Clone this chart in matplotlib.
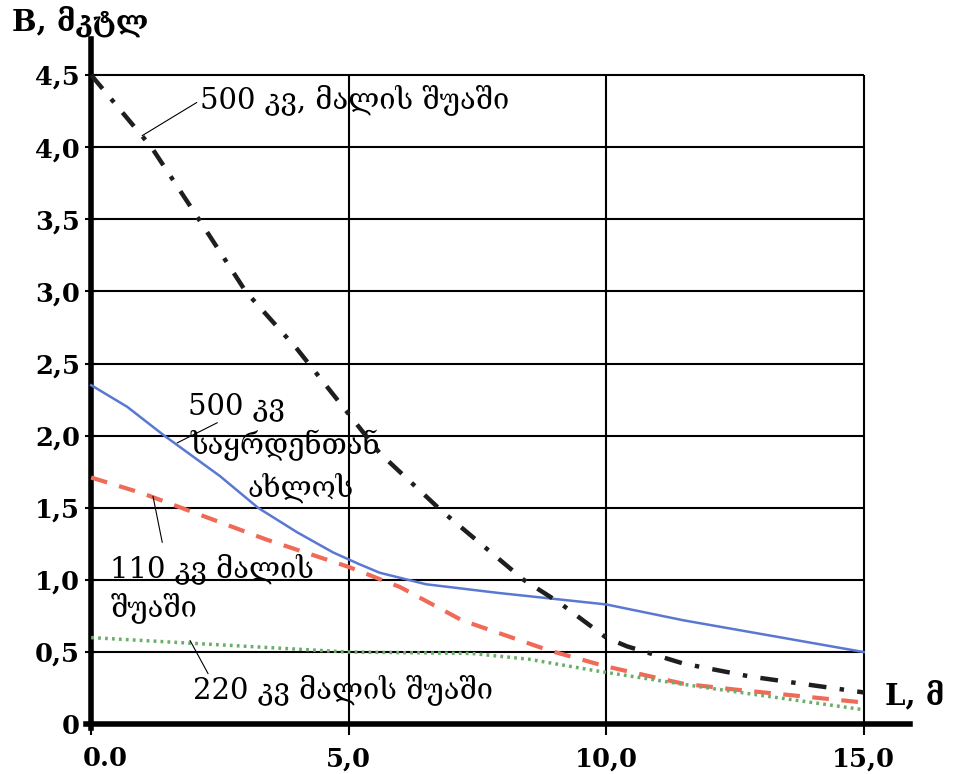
import matplotlib.pyplot as plt
import matplotlib.transforms as mtransforms
import numpy as np

# 500 kV, mid-span (black dash-dot)
x_500_mid = [0, 1.17, 2, 3, 4, 5, 5.6, 6.8, 8.4, 9.1, 10, 10.4, 11.5, 12.8, 15]
b_500_mid = [4.5, 4.0, 3.55, 3.0, 2.6, 2.15, 1.88, 1.48, 1.0, 0.84, 0.6, 0.54, 0.42, 0.33, 0.22]

# 500 kV, near the tower (blue solid)
x_500_sup = [0, 0.7, 1.42, 2.5, 3.24, 4, 4.7, 5.2, 5.6, 6.5, 7.9, 10, 11.5, 15]
b_500_sup = [2.35, 2.2, 2.0, 1.72, 1.5, 1.33, 1.19, 1.11, 1.05, 0.97, 0.91, 0.83, 0.72, 0.5]

# 110 kV, mid-span (red dashed)
x_110 = [0, 1, 1.9, 3.4, 5, 6, 7.2, 8.9, 10, 11.5, 12.5, 15]
b_110 = [1.71, 1.6, 1.48, 1.28, 1.09, 0.95, 0.72, 0.51, 0.40, 0.28, 0.24, 0.15]

# 220 kV, mid-span (green dotted)
x_220 = [0, 2, 5, 7.4, 8.5, 9.8, 11.8, 15]
b_220 = [0.6, 0.56, 0.5, 0.49, 0.45, 0.37, 0.26, 0.1]

yticks = [0, 0.5, 1.0, 1.5, 2.0, 2.5, 3.0, 3.5, 4.0, 4.5]
ylabels = ['0', '0,5', '1,0', '1,5', '2,0', '2,5', '3,0', '3,5', '4,0', '4,5']
xticks = [0, 5, 10, 15]
xlabels = ['0.0', '5,0', '10,0', '15,0']

plt.rcParams['font.family'] = ['DejaVu Serif']

fig = plt.figure(figsize=(9.59, 7.74), dpi=100)
ax = fig.add_axes([0.0897, 0.0588, 0.8593, 0.8908])
ax.set_xlim(-0.1, 15.9)
ax.set_ylim(-0.03, 4.75)

# grid
ax.hlines(yticks[1:], 0, 15, color='black', lw=1.5, zorder=1)
ax.vlines([5, 10, 15], 0, 4.5, color='black', lw=1.5, zorder=1)

ax.plot(x_500_sup, b_500_sup, color='#5a78d2', lw=1.8, zorder=3)
ax.plot(x_110, b_110, color='#f06a58', lw=3, dashes=(4, 3), zorder=3)
ax.plot(x_220, b_220, color='#6aae6a', lw=2.5, dashes=(0.8, 1.2), zorder=3)
ax.plot(x_500_mid, b_500_mid, color='#1e1e1e', lw=3.2, dashes=(4, 3, 1, 3), zorder=4)

for s in ['top', 'right']:
    ax.spines[s].set_visible(False)
ax.spines['left'].set_position(('data', 0))
ax.spines['bottom'].set_position(('data', 0))
ax.spines['left'].set_linewidth(4)
ax.spines['bottom'].set_linewidth(4)

ax.set_yticks(yticks)
ax.set_yticklabels(ylabels, fontsize=18.5, fontweight='bold')
ax.set_xticks(xticks)
ax.set_xticklabels(xlabels, fontsize=18.5, fontweight='bold')
ax.tick_params(axis='y', direction='inout', length=8, width=1.5, pad=4)
ax.tick_params(axis='x', direction='out', length=8, width=1.5, pad=8)

# first x label sits a bit right of the axis in the original
lbl0 = ax.get_xticklabels()[0]
lbl0.set_transform(lbl0.get_transform() +
                   mtransforms.ScaledTranslation(0.14, 0, fig.dpi_scale_trans))

lead = dict(arrowstyle='-', lw=0.8, color='black', shrinkA=0, shrinkB=0)
tk = dict(fontsize=21, color='black', va='center', ha='left')

ax.text(2.12, 4.33, '500 კვ, მალის შუაში', **tk)
ax.annotate('', xy=(0.99, 4.08), xytext=(2.05, 4.31), arrowprops=lead)

ax.text(1.88, 2.2, '500 კვ', **tk)
ax.text(1.92, 1.93, 'საყრდენთან', **tk)
ax.text(3.03, 1.64, 'ახლოს', **tk)
ax.annotate('', xy=(1.67, 1.95), xytext=(2.45, 2.09), arrowprops=lead)

ax.text(0.37, 1.08, '110 კვ მალის', **tk)
ax.text(0.37, 0.81, 'შუაში', **tk)
ax.annotate('', xy=(1.2, 1.58), xytext=(1.38, 1.26), arrowprops=lead)

ax.text(1.98, 0.24, '220 კვ მალის შუაში', **tk)
ax.annotate('', xy=(1.92, 0.58), xytext=(2.27, 0.35), arrowprops=lead)

ax.text(15.42, 0.2, 'L, მ', fontsize=21, fontweight='bold', va='center', ha='left')
fig.text(0.012, 0.972, 'B, მკტლ', fontsize=21, fontweight='bold', va='center', ha='left')

fig.savefig('out.png', dpi=100)
